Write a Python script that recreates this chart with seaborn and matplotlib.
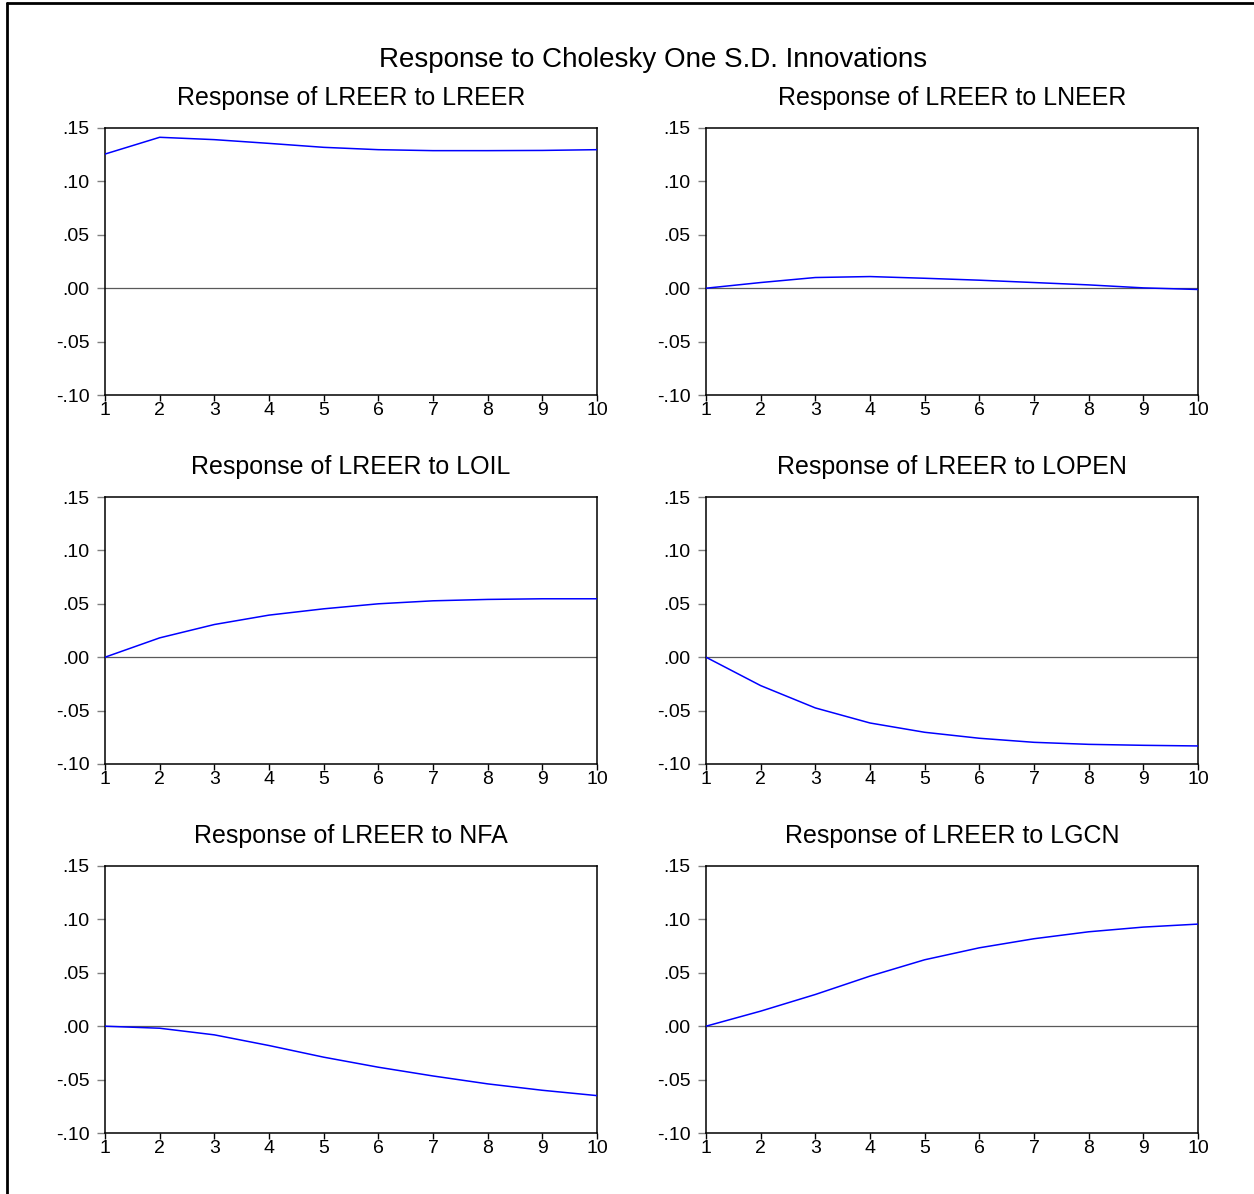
import numpy as np
import pandas as pd
import seaborn as sns
import matplotlib.pyplot as plt
from matplotlib.lines import Line2D

# periodos
periodos = [1, 2, 3, 4, 5, 6, 7, 8, 9, 10]

# respuestas de LREER
resp_lreer = [0.1256, 0.1413, 0.1391, 0.1356, 0.1319, 0.1297, 0.1288, 0.1288, 0.1290, 0.1297]
resp_lneer = [0.0, 0.0053, 0.0100, 0.0109, 0.0093, 0.0075, 0.0053, 0.0031, 0.0003, -0.0012]
resp_loil = [0.0, 0.0181, 0.0306, 0.0394, 0.0453, 0.0500, 0.0528, 0.0541, 0.0547, 0.0547]
resp_lopen = [0.0, -0.0266, -0.0475, -0.0616, -0.0703, -0.0759, -0.0797, -0.0816, -0.0825, -0.0831]
resp_nfa = [0.0, -0.0019, -0.0081, -0.0181, -0.0290, -0.0384, -0.0466, -0.0540, -0.0600, -0.0650]
resp_lgcn = [0.0, 0.0141, 0.0297, 0.0469, 0.0622, 0.0734, 0.0819, 0.0884, 0.0928, 0.0956]

titulos = ["Response of LREER to LREER", "Response of LREER to LNEER",
           "Response of LREER to LOIL", "Response of LREER to LOPEN",
           "Response of LREER to NFA", "Response of LREER to LGCN"]
series = [resp_lreer, resp_lneer, resp_loil, resp_lopen, resp_nfa, resp_lgcn]

y_ticks = [-0.10, -0.05, 0.00, 0.05, 0.10, 0.15]
y_labels = ["-.10", "-.05", ".00", ".05", ".10", ".15"]

sns.set_style("ticks")
plt.rcParams['font.family'] = ['Liberation Sans', 'DejaVu Sans']
plt.rcParams['text.color'] = 'black'

W, H = 1254, 1194
fig = plt.figure(figsize=(W / 100, H / 100), dpi=100)

# marco exterior
fig.add_artist(Line2D([7 / W, 1.0], [1 - 3 / H, 1 - 3 / H], transform=fig.transFigure, color="black", lw=2))
fig.add_artist(Line2D([7 / W, 7 / W], [1 - 3 / H, 0.0], transform=fig.transFigure, color="black", lw=2))

fig.text(653 / W, 1 - 60 / H, "Response to Cholesky One S.D. Innovations", ha="center", va="center",
         fontsize=20, color="black")

lefts = [105, 706]
bottoms = [395, 764, 1133]
ancho, alto = 492, 267

for i, (tit, vals) in enumerate(zip(titulos, series)):
    fila, col = divmod(i, 2)
    x0 = lefts[col]
    y0 = bottoms[fila]
    ax = fig.add_axes([x0 / W, 1 - y0 / H, ancho / W, alto / H])
    df = pd.DataFrame({"periodo": periodos, "resp": vals})
    ax.axhline(0, color="0.35", lw=0.9, zorder=1)
    sns.lineplot(data=df, x="periodo", y="resp", ax=ax, color="blue", lw=1.1, zorder=3)
    ax.set_xlim(1, 10)
    ax.set_ylim(-0.10, 0.15)
    ax.set_xticks(periodos)
    ax.set_xticklabels([str(p) for p in periodos], fontsize=14)
    ax.set_yticks(y_ticks)
    ax.set_yticklabels(y_labels, fontsize=14)
    ax.tick_params(axis="y", direction="out", length=6, width=1, color="0.5", labelcolor="black", pad=5)
    ax.tick_params(axis="x", direction="out", length=4, width=1, color="black", labelcolor="black", pad=1)
    ax.set_xlabel("")
    ax.set_ylabel("")
    for s in ax.spines.values():
        s.set_visible(True)
        s.set_color("black")
        s.set_linewidth(1.1)
    fig.text((x0 + ancho / 2) / W, 1 - (y0 - alto - 30) / H, tit, ha="center", va="center",
             fontsize=18, color="black")

fig.savefig("out.png", dpi=100)
